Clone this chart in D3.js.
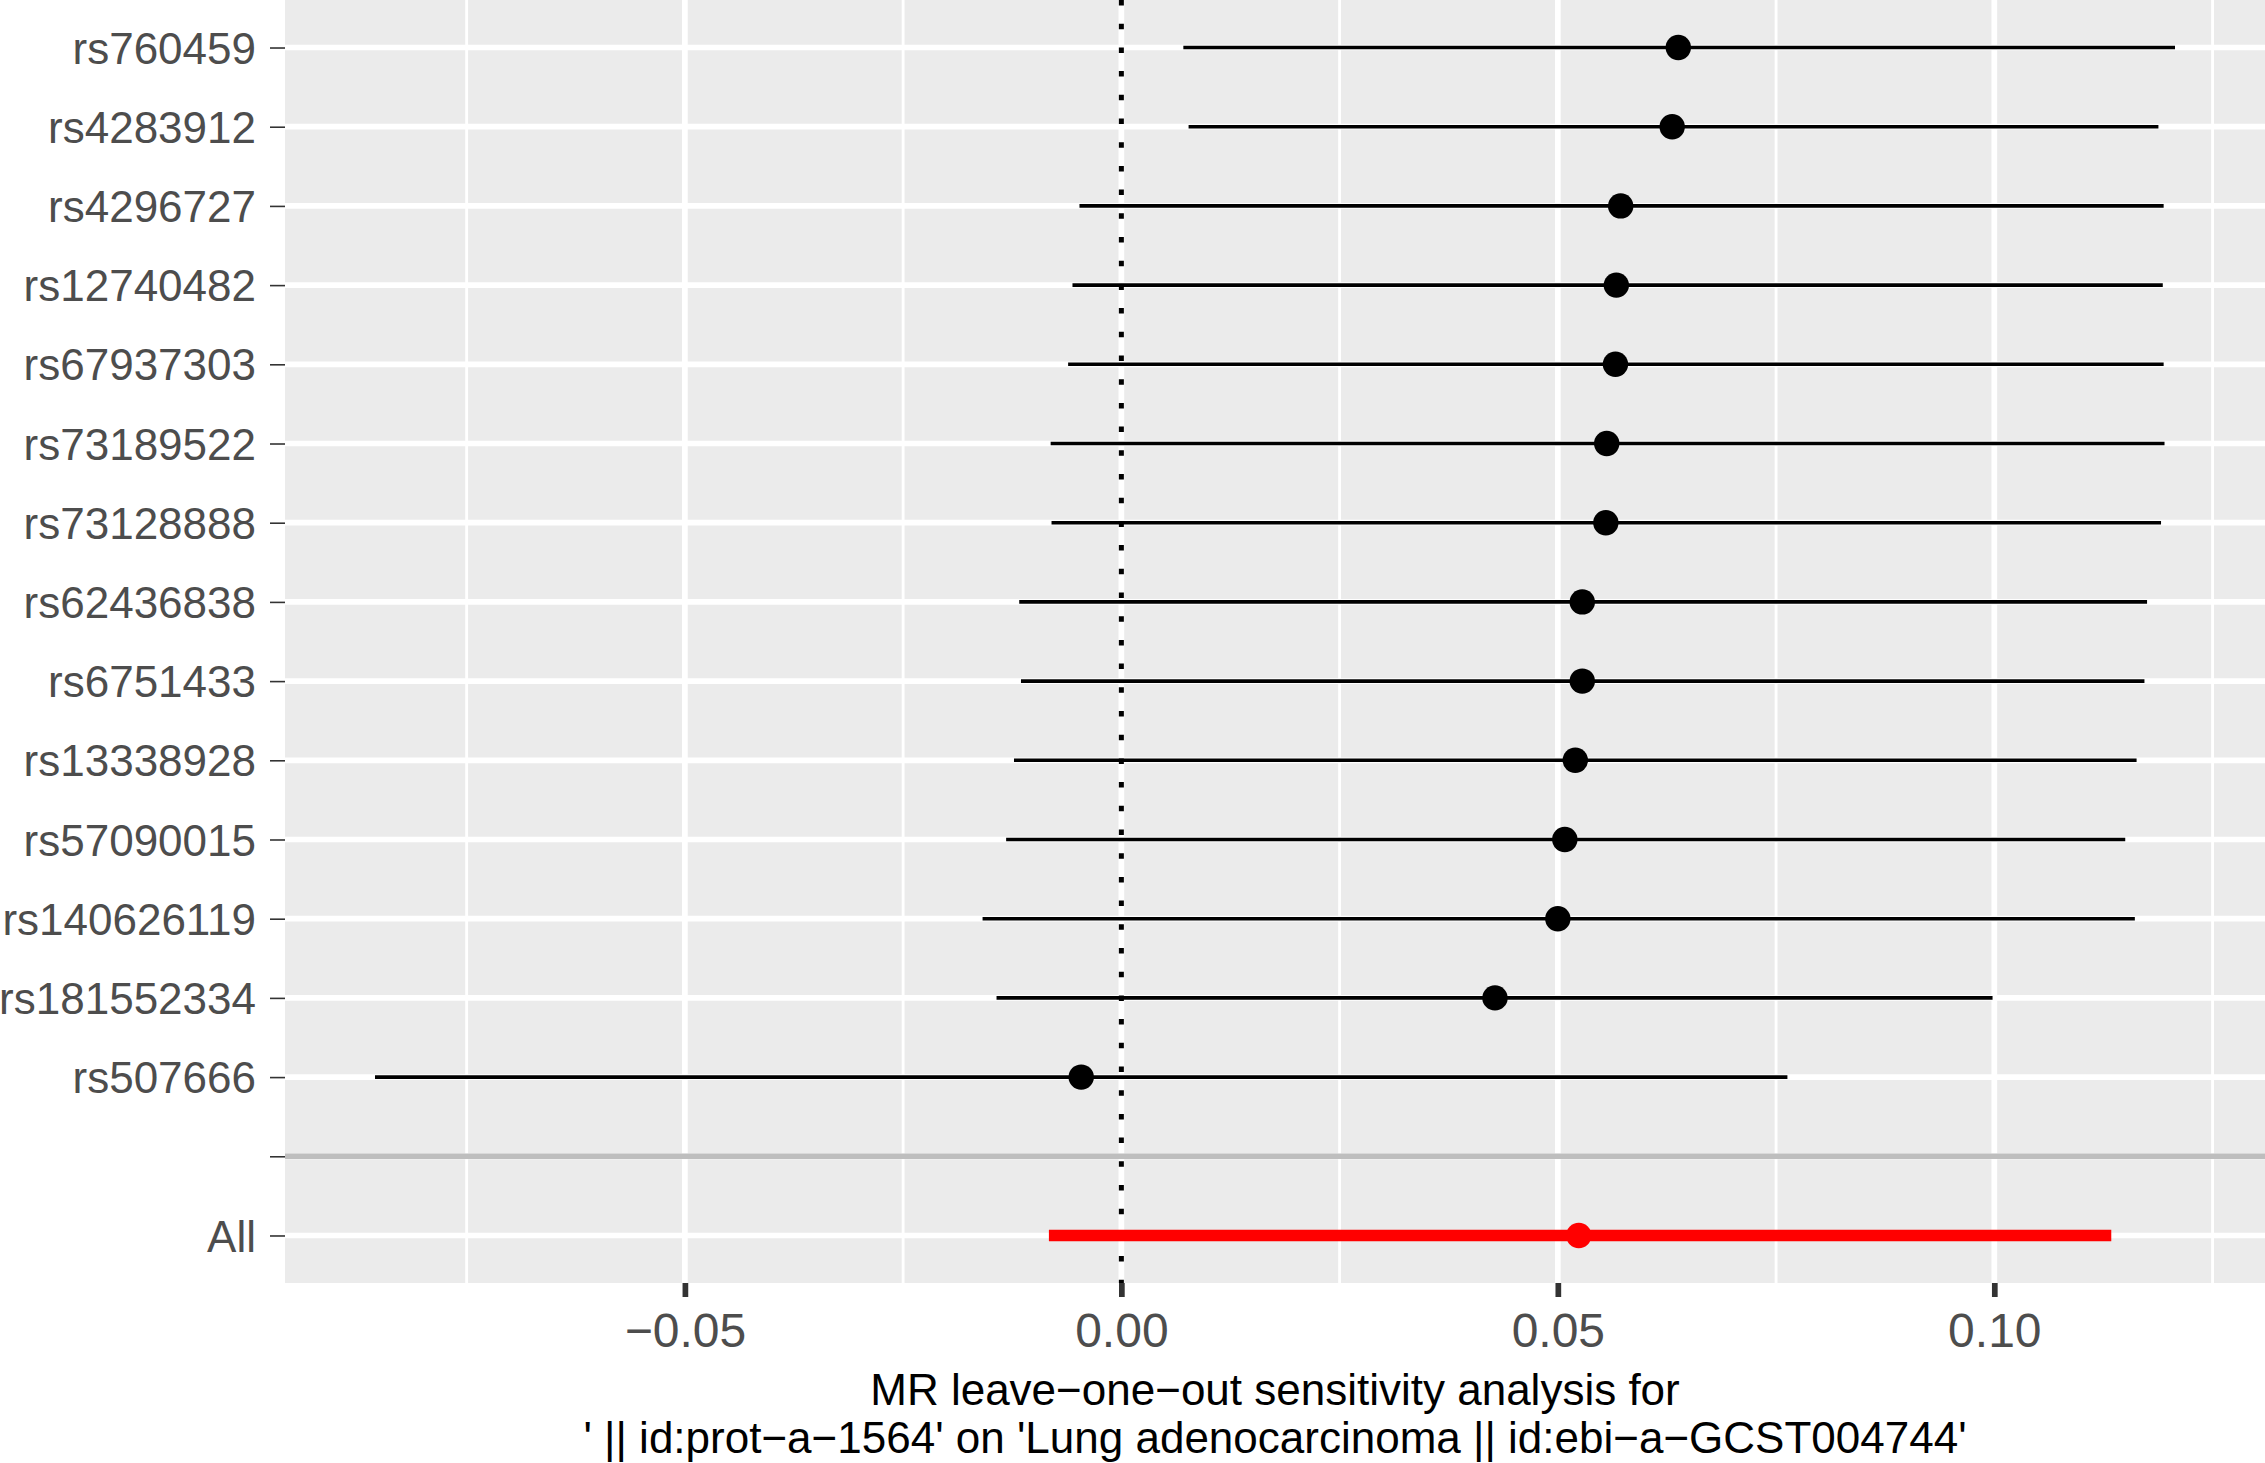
<!DOCTYPE html>
<html>
<head>
<meta charset="utf-8">
<script src="https://cdn.jsdelivr.net/npm/d3@7"></script>
<style>
  html, body { margin: 0; padding: 0; background: #fff; }
  text { font-family: "Liberation Sans", Arial, sans-serif; }
</style>
</head>
<body>
<div id="chart"></div>
<script>
// leave-one-out estimates, top row first
const snps = ['rs760459', 'rs4283912', 'rs4296727', 'rs12740482', 'rs67937303',
  'rs73189522', 'rs73128888', 'rs62436838', 'rs6751433', 'rs13338928',
  'rs57090015', 'rs140626119', 'rs181552334', 'rs507666'];
const beta = [0.0638, 0.0631, 0.0572, 0.0567, 0.0566, 0.0556, 0.0555, 0.0528,
  0.0528, 0.0520, 0.0508, 0.0500, 0.0428, -0.0046];
const lower = [0.0071, 0.0077, -0.0048, -0.0056, -0.0061, -0.0081, -0.0080,
  -0.0117, -0.0115, -0.0123, -0.0132, -0.0159, -0.0143, -0.0855];
const upper = [0.1207, 0.1188, 0.1194, 0.1193, 0.1194, 0.1195, 0.1191,
  0.1175, 0.1172, 0.1163, 0.1150, 0.1161, 0.0998, 0.0763];

// the pooled estimate
const allLabel = 'All';
const allBeta = 0.0524;
const allLower = -0.0083;
const allUpper = 0.1134;

const categories = snps.concat(['', allLabel]);
const majorTicks = [-0.05, 0, 0.05, 0.1];
const minorTicks = [-0.075, -0.025, 0.025, 0.075, 0.125];
const titleLines = ['MR leave\u2212one\u2212out sensitivity analysis for',
  "' || id:prot\u2212a\u22121564' on 'Lung adenocarcinoma || id:ebi\u2212a\u2212GCST004744'"];

const width = 2265, height = 1463;
const panel = {left: 285, right: 2265, top: 0, bottom: 1283};

const rows = snps.map((s, i) => ({snp: s, b: beta[i], lo: lower[i], up: upper[i]}));

const svg = d3.select('#chart').append('svg')
    .attr('width', width)
    .attr('height', height);

// ggplot style 5% expansion on the x range
const lo = d3.min(rows.map(d => d.lo).concat([allLower]));
const hi = d3.max(rows.map(d => d.up).concat([allUpper]));
const pad = (hi - lo) * 0.05;

const x = d3.scaleLinear()
    .domain([lo - pad, hi + pad])
    .range([panel.left, panel.right]);

const y = d3.scalePoint()
    .domain(categories)
    .range([panel.top, panel.bottom])
    .padding(0.6);

svg.append('rect')
    .attr('x', panel.left)
    .attr('y', panel.top)
    .attr('width', panel.right - panel.left)
    .attr('height', panel.bottom - panel.top)
    .attr('fill', '#EBEBEB');

const grid = svg.append('g').attr('id', 'grid');
grid.selectAll('line.minor')
  .data(minorTicks)
  .join('line')
    .attr('class', 'minor')
    .attr('x1', d => x(d)).attr('x2', d => x(d))
    .attr('y1', panel.top).attr('y2', panel.bottom)
    .attr('stroke', '#fff')
    .attr('stroke-width', 2.85);
grid.selectAll('line.vmajor')
  .data(majorTicks)
  .join('line')
    .attr('class', 'vmajor')
    .attr('x1', d => x(d)).attr('x2', d => x(d))
    .attr('y1', panel.top).attr('y2', panel.bottom)
    .attr('stroke', '#fff')
    .attr('stroke-width', 5.7);
grid.selectAll('line.hmajor')
  .data(categories)
  .join('line')
    .attr('class', 'hmajor')
    .attr('x1', panel.left).attr('x2', panel.right)
    .attr('y1', d => y(d)).attr('y2', d => y(d))
    .attr('stroke', '#fff')
    .attr('stroke-width', 5.7);

// reference line at zero
svg.append('line')
    .attr('x1', x(0)).attr('x2', x(0))
    .attr('y1', panel.top).attr('y2', panel.bottom)
    .attr('stroke', '#000')
    .attr('stroke-width', 5)
    .attr('stroke-dasharray', '5.5 18.2');

// separator between the single SNPs and "All"
svg.append('line')
    .attr('x1', panel.left).attr('x2', panel.right)
    .attr('y1', y('')).attr('y2', y(''))
    .attr('stroke', '#BEBEBE')
    .attr('stroke-width', 5.4);

const marks = svg.append('g').attr('id', 'marks');
marks.selectAll('line.ci')
  .data(rows)
  .join('line')
    .attr('class', 'ci')
    .attr('x1', d => x(d.lo)).attr('x2', d => x(d.up))
    .attr('y1', d => y(d.snp)).attr('y2', d => y(d.snp))
    .attr('stroke', '#000')
    .attr('stroke-width', 3.6);
marks.selectAll('circle.est')
  .data(rows)
  .join('circle')
    .attr('class', 'est')
    .attr('cx', d => x(d.b))
    .attr('cy', d => y(d.snp))
    .attr('r', 12.7)
    .attr('fill', '#000');

marks.append('line')
    .attr('x1', x(allLower)).attr('x2', x(allUpper))
    .attr('y1', y(allLabel)).attr('y2', y(allLabel))
    .attr('stroke', '#FF0000')
    .attr('stroke-width', 11.7);
marks.append('circle')
    .attr('cx', x(allBeta))
    .attr('cy', y(allLabel))
    .attr('r', 12.7)
    .attr('fill', '#FF0000');

// axes
const fmt = d => (d < 0 ? '\u2212' : '') + d3.format('.2f')(Math.abs(d));
const xAxis = svg.append('g')
    .attr('transform', `translate(0,${panel.bottom})`)
    .call(d3.axisBottom(x).tickValues(majorTicks).tickFormat(fmt).tickSize(14).tickPadding(8));
xAxis.select('.domain').remove();
xAxis.selectAll('.tick line').attr('stroke', '#333333').attr('stroke-width', 5.7);
xAxis.selectAll('.tick text')
    .attr('fill', '#4D4D4D')
    .attr('font-size', 48)
    .attr('y', 64)
    .attr('dy', 0);

const yAxis = svg.append('g')
    .attr('transform', `translate(${panel.left},0)`)
    .call(d3.axisLeft(y).tickSize(15).tickPadding(14));
yAxis.select('.domain').remove();
yAxis.selectAll('.tick line').attr('stroke', '#333333').attr('stroke-width', 1.6);
yAxis.selectAll('.tick text')
    .attr('fill', '#4D4D4D')
    .attr('font-size', 44)
    .attr('dy', '0.355em');

const title = svg.append('text')
    .attr('text-anchor', 'middle')
    .attr('font-size', 44)
    .attr('fill', '#000');
title.selectAll('tspan')
  .data(titleLines)
  .join('tspan')
    .attr('x', (panel.left + panel.right) / 2)
    .attr('y', (d, i) => 1405 + i * 48)
    .text(d => d);
</script>
</body>
</html>
